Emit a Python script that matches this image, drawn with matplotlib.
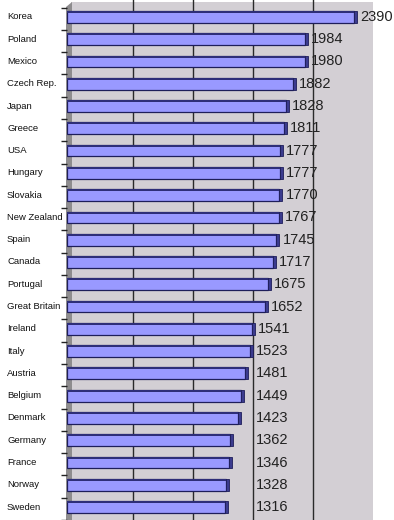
import matplotlib
matplotlib.use("Agg")
import matplotlib.pyplot as plt
import numpy as np
from matplotlib.patches import Rectangle, Polygon
from matplotlib.transforms import ScaledTranslation, blended_transform_factory

countries = ["Korea", "Poland", "Mexico", "Czech Rep.", "Japan", "Greece", "USA",
             "Hungary", "Slovakia", "New Zealand", "Spain", "Canada", "Portugal",
             "Great Britain", "Ireland", "Italy", "Austria", "Belgium", "Denmark",
             "Germany", "France", "Norway", "Sweden"]
hours = [2390, 1984, 1980, 1882, 1828, 1811, 1777, 1777, 1770, 1767, 1745, 1717,
         1675, 1652, 1541, 1523, 1481, 1449, 1423, 1362, 1346, 1328, 1316]
grid_values = [500, 1000, 1500, 2000]

plt.rcParams["font.family"] = ["Liberation Sans", "DejaVu Sans"]

W, H = 394, 520
fig = plt.figure(figsize=(W / 100, H / 100), dpi=100)

def fx(px):
    return px / W

def fy(py):
    return 1 - py / H

# back wall
fig.patches.append(Rectangle((fx(71), 0), fx(373) - fx(71), fy(2), transform=fig.transFigure,
                             facecolor="#D3CFD4", edgecolor="none", zorder=-2))
# side wall
fig.patches.append(Polygon([(fx(66), 0), (fx(66), fy(7)), (fx(72), fy(2)), (fx(72), 0)],
                           closed=True, transform=fig.transFigure,
                           facecolor="#8E8C8E", edgecolor="none", zorder=-1))

ax = fig.add_axes([fx(67), 0, 300 / W, 1])
ax.patch.set_visible(False)
n = len(countries)
y = np.arange(n)
ax.set_xlim(0, 2500)
ax.set_ylim(n - 1 + 10 / 22.4, -17 / 22.4)

back = ax.transData + ScaledTranslation(6 / 100, 0, fig.dpi_scale_trans)
ax.vlines(grid_values, -2, n + 2, transform=back, colors="#2a2a2a", linewidth=1, zorder=1)

h = 0.53
top = 0.09
ax.barh(y, hours, height=h, color="#9999FF", edgecolor="#1E1E5A", linewidth=0.9, zorder=3)
# top face of the 3D bar
ax.barh(y - h / 2 + top / 2, hours, height=top, color="#2E2E78", edgecolor="none", zorder=3.5)
# end face of the 3D bar
ax.barh(y, [25] * n, left=hours, height=h, color="#3B3B8E", edgecolor="#1E1E5A",
        linewidth=0.6, zorder=3)

for yi, v in zip(y, hours):
    ax.text(max(v + 50, 1575), yi, str(v), va="center", ha="left", fontsize=10.5,
            color="#222222", zorder=4)

lab_tr = blended_transform_factory(fig.transFigure, ax.transData)
for yi, c in zip(y, countries):
    ax.text(fx(7), yi, c, transform=lab_tr, va="center", ha="left", fontsize=6.8,
            color="#111111")

for s in ax.spines.values():
    s.set_visible(False)
ax.set_xticks([])
ax.set_yticks(np.arange(n + 1) - 0.42)
ax.set_yticklabels([])
ax.tick_params(axis="y", length=4.5, width=1, color="#222222", direction="out")

fig.savefig("out.png", dpi=100, facecolor="white")
